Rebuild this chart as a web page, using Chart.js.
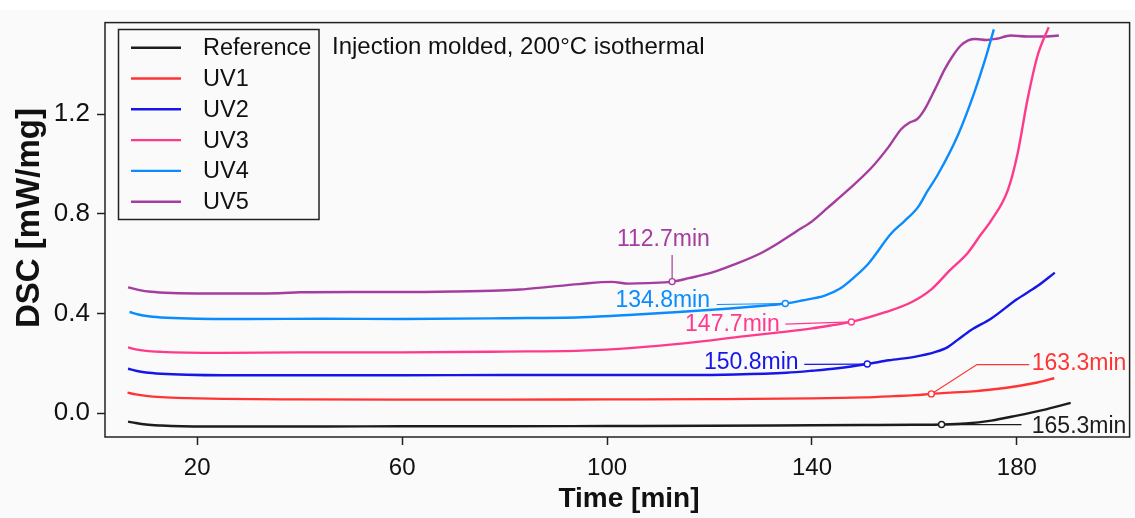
<!DOCTYPE html>
<html>
<head>
<meta charset="utf-8">
<script src="https://cdn.jsdelivr.net/npm/chart.js@4/dist/chart.umd.min.js"></script>
<style>
  html, body { margin: 0; padding: 0; background: #fafafa; }
  #wrap { width: 1135px; height: 518px; }
</style>
</head>
<body>
<div id="wrap"><canvas id="dsc" width="1135" height="518"></canvas></div>
<script>
// ---- DSC isothermal curves (time in min, heat flow in mW/mg) ----
const seriesNames = ['Reference', 'UV1', 'UV2', 'UV3', 'UV4', 'UV5'];

const refTime = [6.5, 8, 10, 13, 17, 22, 30, 45, 60, 80, 100, 120, 140, 150, 160, 165.3, 170, 175, 180, 185, 190.5];
const refDsc  = [-0.034, -0.040, -0.046, -0.050, -0.053, -0.054, -0.054, -0.054, -0.053, -0.053, -0.052, -0.051, -0.049, -0.048, -0.047, -0.046, -0.042, -0.030, -0.010, 0.012, 0.041];

const uv1Time = [6.4, 8, 10, 13, 18, 25, 40, 60, 80, 100, 120, 140, 150, 156, 160, 163.3, 167, 172, 176, 180, 184, 187.3];
const uv1Dsc  = [0.082, 0.075, 0.069, 0.064, 0.060, 0.057, 0.055, 0.054, 0.054, 0.055, 0.056, 0.059, 0.063, 0.068, 0.072, 0.077, 0.082, 0.088, 0.097, 0.108, 0.123, 0.140];

const uv2Time = [6.5, 8, 10, 13, 18, 25, 40, 60, 80, 100, 115, 125, 135, 140, 145, 150.8, 155, 160, 164, 166.5, 168.5, 171, 175, 180, 184, 187.4];
const uv2Dsc  = [0.178, 0.170, 0.163, 0.158, 0.154, 0.152, 0.152, 0.152, 0.153, 0.153, 0.153, 0.155, 0.162, 0.170, 0.180, 0.197, 0.212, 0.226, 0.245, 0.265, 0.295, 0.333, 0.380, 0.457, 0.510, 0.564];

const uv3Time = [6.5, 8, 10, 13, 18, 25, 40, 60, 80, 95, 105, 115, 127, 135, 140, 144, 147.7, 154, 159.4, 163.3, 167, 170.4, 173, 175, 178.2, 180.1, 182.1, 184, 186.2];
const uv3Dsc  = [0.264, 0.256, 0.250, 0.246, 0.243, 0.242, 0.244, 0.244, 0.247, 0.251, 0.262, 0.280, 0.309, 0.327, 0.340, 0.353, 0.366, 0.403, 0.445, 0.497, 0.575, 0.643, 0.718, 0.774, 0.893, 1.038, 1.262, 1.433, 1.550];

const uv4Time = [6.8, 8.5, 10.5, 14, 20, 30, 45, 60, 80, 95, 105, 114, 124, 131, 134.8, 138, 142.5, 145.5, 148.5, 151, 155.5, 158, 160.7, 162.5, 164.6, 168.5, 171.7, 174, 175.5];
const uv4Dsc  = [0.406, 0.396, 0.389, 0.383, 0.379, 0.378, 0.379, 0.378, 0.381, 0.385, 0.395, 0.406, 0.420, 0.432, 0.440, 0.452, 0.472, 0.500, 0.550, 0.600, 0.722, 0.770, 0.827, 0.890, 0.959, 1.117, 1.288, 1.433, 1.541];

const uv5Time = [6.5, 8.5, 11, 15, 22, 30, 36, 40, 50, 60, 70, 79, 83, 88.6, 94.5, 100.9, 104.2, 108, 112.7, 116, 120.4, 125, 130.1, 133.4, 137, 140, 143.1, 147, 151.6, 155, 157.4, 159, 160.5, 162, 164, 165.9, 167.5, 169, 170.5, 172, 174, 176, 178.8, 182, 185, 188.2];
const uv5Dsc  = [0.505, 0.495, 0.487, 0.482, 0.480, 0.480, 0.481, 0.485, 0.486, 0.486, 0.488, 0.492, 0.496, 0.507, 0.518, 0.527, 0.520, 0.522, 0.528, 0.542, 0.564, 0.598, 0.643, 0.682, 0.730, 0.770, 0.825, 0.895, 0.985, 1.070, 1.140, 1.166, 1.180, 1.220, 1.300, 1.380, 1.435, 1.475, 1.497, 1.502, 1.498, 1.503, 1.516, 1.512, 1.512, 1.516];

// onset (induction) times marked on each curve, in minutes
const onsetTimes = [165.3, 163.3, 150.8, 147.7, 134.8, 112.7];

const xTickValues = [20, 60, 100, 140, 180];
const yTickValues = [0.0, 0.4, 0.8, 1.2];

const xTitle = 'Time [min]';
const yTitle = 'DSC [mW/mg]';
const noteText = 'Injection molded, 200°C isothermal';

const seriesTimes = [refTime, uv1Time, uv2Time, uv3Time, uv4Time, uv5Time];
const seriesDsc   = [refDsc, uv1Dsc, uv2Dsc, uv3Dsc, uv4Dsc, uv5Dsc];

// ---- styling ----
const colors = ['#1c1c1c', '#ff3535', '#1616e8', '#ff3a8c', '#0a8cff', '#a53ca0'];
const FONT = "'Liberation Sans', Arial, Helvetica, sans-serif";
const AXIS_COLOR = '#222';
const TEXT_COLOR = '#111';

// callout geometry: leader path after the marker and label anchor, in axis units
const callouts = [
  { path: [[180.9, -0.046]],                label: [182.9, -0.053], align: 'left'   },
  { path: [[172.2, 0.195], [182.4, 0.195]], label: [182.9, 0.199],  align: 'left'   },
  { path: [[138.5, 0.196]],                 label: [137.4, 0.2015], align: 'right'  },
  { path: [[134.8, 0.357]],                 label: [133.7, 0.355],  align: 'right'  },
  { path: [[121.4, 0.436]],                 label: [120.1, 0.453],  align: 'right'  },
  { path: [[112.7, 0.635]],                 label: [111.0, 0.695],  align: 'center' }
];

function pairs(ts, vs) { return ts.map((t, i) => ({ x: t, y: vs[i] })); }
function onsetPoint(i) {
  const k = seriesTimes[i].indexOf(onsetTimes[i]);
  return { x: onsetTimes[i], y: seriesDsc[i][k] };
}

const lineSets = seriesNames.map((name, i) => ({
  label: name,
  data: pairs(seriesTimes[i], seriesDsc[i]),
  showLine: true,
  borderColor: colors[i],
  backgroundColor: colors[i],
  borderWidth: 2.4,
  pointRadius: 0,
  pointHoverRadius: 0,
  cubicInterpolationMode: 'monotone',
  fill: false,
  order: 2
}));

const markerSets = seriesNames.map((name, i) => ({
  label: name + ' onset',
  data: [onsetPoint(i)],
  showLine: false,
  pointRadius: 3,
  pointBorderWidth: 1.4,
  pointBackgroundColor: '#ffffff',
  pointBorderColor: colors[i],
  order: 1
}));

const backdrop = {
  id: 'backdrop',
  beforeDraw(chart) {
    const ctx = chart.ctx;
    ctx.save();
    ctx.fillStyle = '#fafafa';
    ctx.fillRect(0, 0, chart.width, chart.height);
    ctx.fillStyle = '#ffffff';
    ctx.fillRect(0, 0, chart.width, 10);
    ctx.restore();
  }
};

const leaders = {
  id: 'leaders',
  beforeDatasetsDraw(chart) {
    const { ctx, scales: { x, y } } = chart;
    ctx.save();
    ctx.lineWidth = 1.2;
    callouts.forEach((c, i) => {
      const p = onsetPoint(i);
      ctx.strokeStyle = colors[i];
      ctx.beginPath();
      ctx.moveTo(x.getPixelForValue(p.x), y.getPixelForValue(p.y));
      c.path.forEach(q => ctx.lineTo(x.getPixelForValue(q[0]), y.getPixelForValue(q[1])));
      ctx.stroke();
    });
    ctx.restore();
  },
  afterDatasetsDraw(chart) {
    const { ctx, scales: { x, y } } = chart;
    ctx.save();
    ctx.font = '23px ' + FONT;
    ctx.textBaseline = 'middle';
    callouts.forEach((c, i) => {
      ctx.fillStyle = colors[i];
      ctx.textAlign = c.align;
      ctx.fillText(onsetTimes[i].toFixed(1) + 'min', x.getPixelForValue(c.label[0]), y.getPixelForValue(c.label[1]));
    });
    ctx.restore();
  }
};

const frameAndLegend = {
  id: 'frameAndLegend',
  afterDraw(chart) {
    const { ctx, chartArea: a } = chart;
    ctx.save();
    // plot frame
    ctx.strokeStyle = AXIS_COLOR;
    ctx.lineWidth = 1.5;
    ctx.strokeRect(a.left, a.top, a.right - a.left, a.bottom - a.top);

    // axis titles
    ctx.fillStyle = TEXT_COLOR;
    ctx.font = 'bold 28px ' + FONT;
    ctx.textAlign = 'center';
    ctx.textBaseline = 'middle';
    ctx.fillText(xTitle, 629, 499);
    ctx.save();
    ctx.translate(30, 218);
    ctx.rotate(-Math.PI / 2);
    ctx.font = 'bold 33px ' + FONT;
    ctx.fillText(yTitle, 0, 0);
    ctx.restore();

    // legend box
    ctx.fillStyle = '#fafafa';
    ctx.fillRect(118.5, 29.5, 200.5, 190);
    ctx.strokeStyle = '#222';
    ctx.lineWidth = 1.5;
    ctx.strokeRect(118.5, 29.5, 200.5, 190);
    ctx.font = '23.5px ' + FONT;
    ctx.textBaseline = 'middle';
    ctx.textAlign = 'left';
    seriesNames.forEach((name, i) => {
      const yy = 47.7 + i * 30.8;
      ctx.strokeStyle = colors[i];
      ctx.lineWidth = 2.4;
      ctx.beginPath();
      ctx.moveTo(131, yy);
      ctx.lineTo(181, yy);
      ctx.stroke();
      ctx.fillStyle = TEXT_COLOR;
      ctx.fillText(name, 203, yy + 1);
    });

    // condition note
    ctx.font = '24px ' + FONT;
    ctx.fillStyle = TEXT_COLOR;
    ctx.fillText(noteText, 332, 47);
    ctx.restore();
  }
};

new Chart(document.getElementById('dsc'), {
  type: 'scatter',
  data: { datasets: [...markerSets, ...lineSets] },
  plugins: [backdrop, leaders, frameAndLegend],
  options: {
    responsive: false,
    animation: false,
    devicePixelRatio: 1,
    layout: { padding: { top: 16, right: 2, left: 0, bottom: 0 } },
    plugins: { legend: { display: false }, tooltip: { enabled: false } },
    scales: {
      x: {
        type: 'linear',
        min: 2,
        max: 202,
        afterBuildTicks: s => { s.ticks = xTickValues.map(v => ({ value: v })); },
        afterFit: s => { s.height = 81; },
        border: { display: false },
        grid: { drawOnChartArea: false, drawTicks: true, tickLength: 8, tickColor: AXIS_COLOR, tickWidth: 1.5 },
        ticks: { font: { family: FONT, size: 24 }, color: TEXT_COLOR, padding: 9, maxRotation: 0, callback: v => String(v) },
        title: { display: false }
      },
      y: {
        type: 'linear',
        min: -0.096,
        max: 1.568,
        afterBuildTicks: s => { s.ticks = yTickValues.map(v => ({ value: v })); },
        afterFit: s => { s.width = 105; },
        border: { display: false },
        grid: { drawOnChartArea: false, drawTicks: true, tickLength: 8, tickColor: AXIS_COLOR, tickWidth: 1.5 },
        ticks: { font: { family: FONT, size: 26 }, color: TEXT_COLOR, padding: 7, callback: v => v.toFixed(1) },
        title: { display: false }
      }
    }
  }
});
</script>
</body>
</html>
